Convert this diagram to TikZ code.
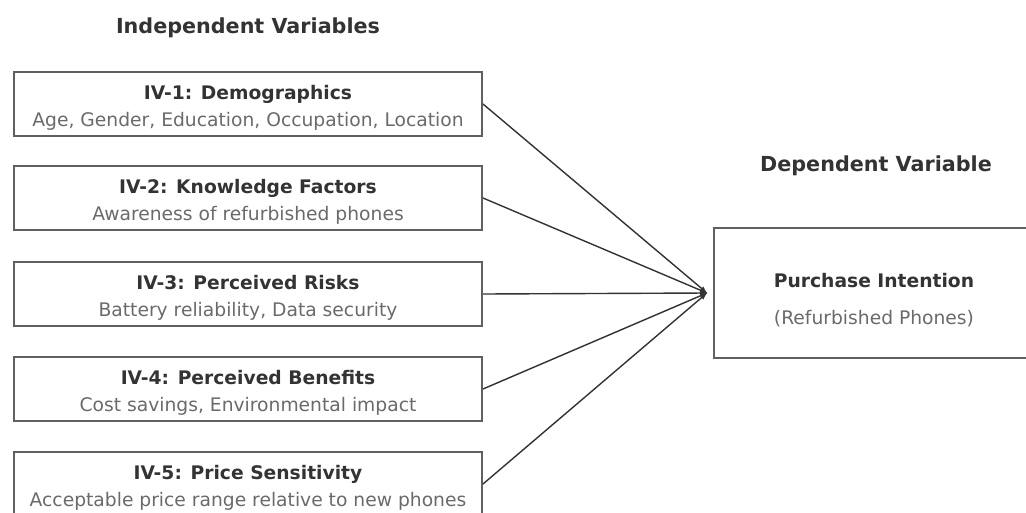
\documentclass[tikz,border=0pt]{standalone}
\usepackage{fontspec}
\setmainfont{DejaVu Sans}
\definecolor{boxgray}{HTML}{606060}
\definecolor{headgray}{HTML}{333333}
\definecolor{descgray}{HTML}{6A6A6A}
\usetikzlibrary{arrows}
\tikzset{
  ivbox/.style={draw=boxgray, line width=2pt, minimum width=468pt, minimum height=64pt,
    align=center, inner sep=0pt, font=\fontsize{18.7}{26.5}\selectfont},
  dvbox/.style={draw=boxgray, line width=2pt, minimum width=320pt, minimum height=130pt,
    align=center, inner sep=0pt, font=\fontsize{18.7}{37}\selectfont},
  headtxt/.style={font=\bfseries\fontsize{20.7}{24}\selectfont, text=headgray},
  link/.style={->, >=latex, draw=headgray, line width=1.4pt}
}
\newcommand{\ivtext}[3][22pt]{{\bfseries\color{headgray}\rule{0pt}{#1}#2}\\{\color{descgray}#3}}
\begin{document}
\begin{tikzpicture}[x=1pt,y=-1pt]
  \useasboundingbox (0,0) rectangle (1026,512);
  \node [headtxt] (ivhead) at (248,28) {Independent Variables};
  \node [headtxt] (dvhead) at (876,166) {Dependent Variable};
  \node [ivbox] (iv1) at (248,104) {\ivtext{IV-1: Demographics}{Age, Gender, Education, Occupation, Location}};
  \node [ivbox] (iv2) at (248,198) {\ivtext{IV-2: Knowledge Factors}{Awareness of refurbished phones}};
  \node [ivbox] (iv3) at (248,294) {\ivtext{IV-3: Perceived Risks}{Battery reliability, Data security}};
  \node [ivbox] (iv4) at (248,389) {\ivtext{IV-4: Perceived Benefits}{Cost savings, Environmental impact}};
  \node [ivbox] (iv5) at (248,484) {\ivtext{IV-5: Price Sensitivity}{Acceptable price range relative to new phones}};
  \node [dvbox, anchor=west] (dv) at (713,293) {\ivtext[28pt]{Purchase Intention}{(Refurbished Phones)}};
  \coordinate (meet) at (707,293);
  \foreach \i in {1,...,5}
    \draw [link] (iv\i.east) -- (meet);
\end{tikzpicture}
\end{document}
